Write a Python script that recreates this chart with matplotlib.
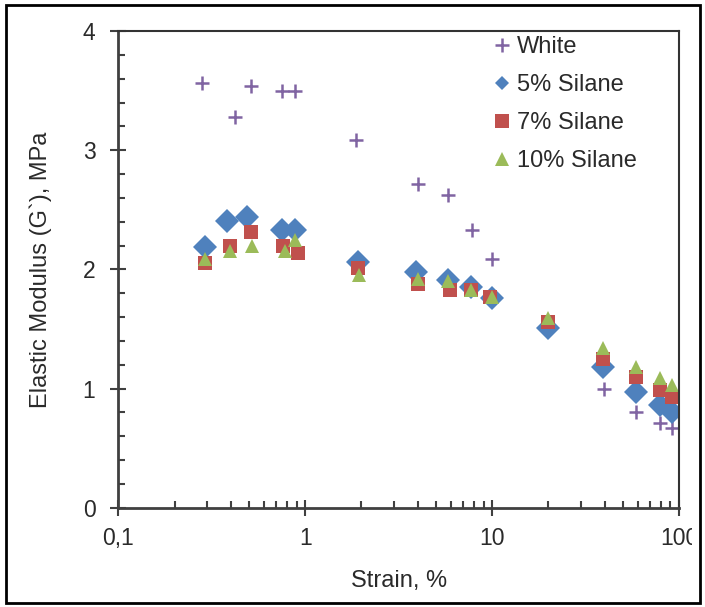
import matplotlib
matplotlib.use("Agg")
import matplotlib.pyplot as plt
from matplotlib.ticker import FixedLocator, LogLocator, NullFormatter, FixedFormatter
from matplotlib.patches import Rectangle
from matplotlib.transforms import Bbox, TransformedBbox

plt.rcParams['font.family'] = ['Liberation Sans', 'DejaVu Sans']

# Strain (%) and elastic modulus (MPa) per compound
strain_white = [0.28, 0.42, 0.51, 0.75, 0.88, 1.87, 4.0, 5.8, 7.8, 10.0, 20.0, 39.5, 59, 79, 92]
g_white = [3.565, 3.275, 3.54, 3.50, 3.50, 3.085, 2.72, 2.62, 2.33, 2.09, 1.52, 1.00, 0.80, 0.71, 0.67]

strain_5 = [0.29, 0.38, 0.49, 0.75, 0.88, 1.92, 3.9, 5.8, 7.7, 10.0, 19.8, 39.3, 58.7, 78.8, 92]
g_5 = [2.19, 2.405, 2.436, 2.33, 2.33, 2.06, 1.98, 1.91, 1.855, 1.757, 1.51, 1.18, 0.97, 0.86, 0.805]

strain_7 = [0.29, 0.397, 0.514, 0.76, 0.92, 1.92, 4.0, 5.94, 7.7, 9.8, 19.8, 39.3, 58.7, 78.8, 92]
g_7 = [2.055, 2.20, 2.31, 2.20, 2.14, 2.01, 1.88, 1.83, 1.83, 1.77, 1.56, 1.25, 1.10, 0.99, 0.93]

strain_10 = [0.29, 0.397, 0.52, 0.78, 0.88, 1.95, 4.0, 5.8, 7.7, 10.0, 19.8, 39.3, 58.7, 78.8, 92]
g_10 = [2.09, 2.15, 2.195, 2.15, 2.245, 1.95, 1.92, 1.905, 1.83, 1.77, 1.59, 1.34, 1.18, 1.085, 1.03]

x_ticks = [0.1, 1, 10, 100]
x_labels = ['0,1', '1', '10', '100']
y_ticks = [0, 1, 2, 3, 4]

W, H = 705, 607
fig = plt.figure(figsize=(W / 100, H / 100), dpi=100)
ax = fig.add_axes([118.3 / W, 1 - 507.7 / H, (679 - 118.3) / W, (507.7 - 31) / H])

ax.plot(strain_white, g_white, ls='none', marker='+', ms=10, mew=1.8,
        color='#8064A2', label='White')
ax.plot(strain_5, g_5, ls='none', marker='D', ms=12.5, mew=0,
        color='#4F81BD', label='5% Silane')
ax.plot(strain_7, g_7, ls='none', marker='s', ms=10, mew=0,
        color='#C0504D', label='7% Silane')
ax.plot(strain_10, g_10, ls='none', marker='^', ms=10.5, mew=0,
        color='#9BBB59', label='10% Silane')

ax.set_xscale('log')
ax.set_xlim(0.1, 100)
ax.set_ylim(0, 4)
ax.xaxis.set_major_locator(FixedLocator(x_ticks))
ax.xaxis.set_major_formatter(FixedFormatter(x_labels))
ax.xaxis.set_minor_locator(LogLocator(base=10, subs=range(2, 10)))
ax.xaxis.set_minor_formatter(NullFormatter())
ax.yaxis.set_major_locator(FixedLocator(y_ticks))
ax.yaxis.set_minor_locator(FixedLocator([i * 0.2 for i in range(21)]))

ax.tick_params(which='major', direction='inout', length=12, width=1.5,
               color='#404040', labelsize=16.5, labelcolor='#2a2a2a')
ax.tick_params(which='minor', direction='in', length=5, width=1.5, color='#404040')
ax.tick_params(axis='x', which='major', pad=8)
ax.tick_params(axis='y', which='major', pad=10.5)

for side in ['left', 'bottom']:
    ax.spines[side].set_color('#404040')
    ax.spines[side].set_linewidth(2)
for side in ['top', 'right']:
    ax.spines[side].set_color('#333333')
    ax.spines[side].set_linewidth(1.5)

ax.set_xlabel('Strain, %', fontsize=17, color='#2a2a2a', labelpad=14)
ax.set_ylabel('Elastic Modulus (G`), MPa', fontsize=17, color='#2a2a2a', labelpad=22)

leg = ax.legend(loc='upper left', bbox_to_anchor=(493 / W, 1 - 36 / H),
                bbox_transform=fig.transFigure, frameon=False, fontsize=17,
                handlelength=0.8, handletextpad=0.2, labelspacing=0.68,
                borderpad=0, borderaxespad=0)
for h, ms in zip(leg.legend_handles, [9.5, 7.5, 9.5, 10.5]):
    h.set_markersize(ms)
for txt in leg.get_texts():
    txt.set_color('#2a2a2a')

# chart-area frame
fig.patches.append(Rectangle((6 / W, 1 - 603 / H), (700 - 6) / W, (603 - 5) / H,
                             transform=fig.transFigure, fill=False,
                             edgecolor='black', linewidth=2))

# the "100" label is cut at the chart area edge in the original
clip = TransformedBbox(Bbox([[0, 0], [692 / W, 1]]), fig.transFigure)
for t in ax.xaxis.get_major_ticks():
    t.label1.set_clip_box(clip)
    t.label1.set_clip_on(True)

fig.savefig('out.png', dpi=100)
